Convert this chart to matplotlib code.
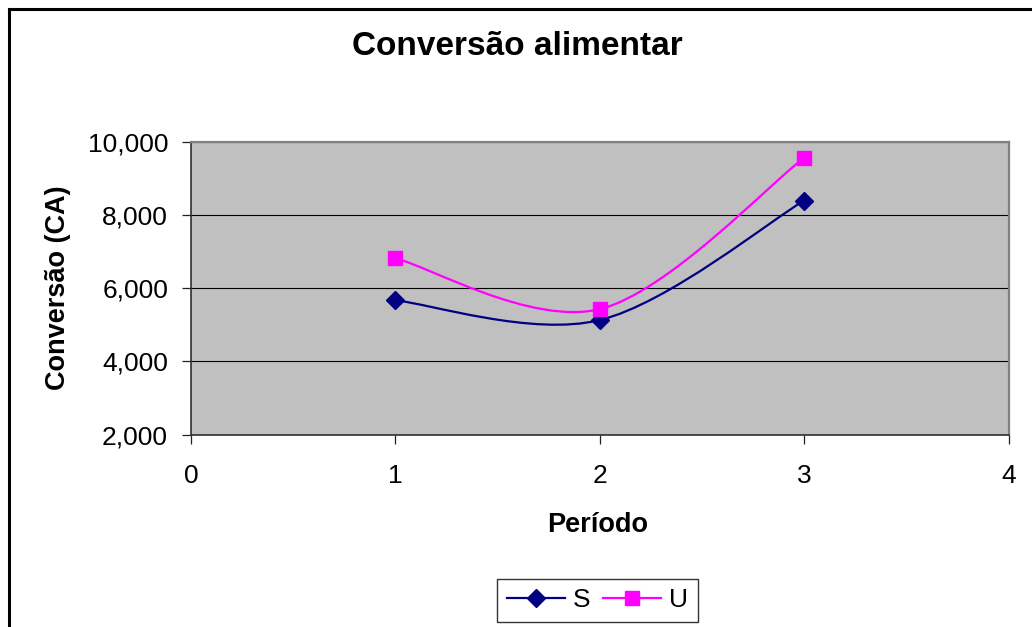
#!/usr/bin/env python3

"""Feed conversion per period for groups S and U, drawn in a classic spreadsheet style."""

import matplotlib

matplotlib.use("Agg")

import matplotlib.pyplot as plt
import numpy as np
from matplotlib.lines import Line2D
from matplotlib.patches import PathPatch
from matplotlib.path import Path

plt.rcParams["font.family"] = ["Liberation Sans", "DejaVu Sans"]

periods = [1, 2, 3]
conv_s = [5.67, 5.13, 8.40]
conv_u = [6.82, 5.43, 9.57]

x_ticks = [0, 1, 2, 3, 4]
y_ticks = [2, 4, 6, 8, 10]

NAVY = "#000080"
MAGENTA = "#FF00FF"


def smooth_path(xs, ys) -> Path:
    """Bezier path through the points, using the spreadsheet-style smoothing."""
    pts = np.column_stack([xs, ys]).astype(float)
    padded = np.vstack([pts[0], pts, pts[-1]])
    verts = [pts[0]]
    codes = [Path.MOVETO]
    for i in range(len(pts) - 1):
        p_prev, p0, p1, p_next = padded[i], padded[i + 1], padded[i + 2], padded[i + 3]
        c1 = p0 + (p1 - p_prev) / 6.0
        c2 = p1 - (p_next - p0) / 6.0
        verts += [c1, c2, p1]
        codes += [Path.CURVE4] * 3
    return Path(np.array(verts), codes)


def fmt_tick(v: float) -> str:
    return f"{v:.3f}".replace(".", ",")


fig = plt.figure(figsize=(10.32, 6.27), dpi=100)
ax = fig.add_axes([0.1851, 0.3070, 0.7923, 0.4665])
ax.set_facecolor("#C0C0C0")

for xs, ys, color, marker, ms, label in [
    (periods, conv_s, NAVY, "D", 9, "S"),
    (periods, conv_u, MAGENTA, "s", 10, "U"),
]:
    ax.add_patch(PathPatch(smooth_path(xs, ys), facecolor="none", edgecolor=color, lw=1.6, zorder=3))
    ax.plot(xs, ys, linestyle="none", marker=marker, markersize=ms, color=color, zorder=4)

ax.set_xlim(0, 4)
ax.set_ylim(2, 10)
ax.set_xticks(x_ticks)
ax.set_yticks(y_ticks)
ax.set_yticklabels([fmt_tick(v) for v in y_ticks])
ax.tick_params(axis="both", direction="out", length=6.5, width=0.9, color="#202020", labelsize=19)
ax.tick_params(axis="x", pad=15)
ax.tick_params(axis="y", pad=10)
ax.grid(axis="y", color="black", lw=0.8)
ax.set_axisbelow(True)

for side in ("top", "right"):
    ax.spines[side].set_color("#808080")
    ax.spines[side].set_linewidth(1.6)
for side in ("left", "bottom"):
    ax.spines[side].set_color("#303030")
    ax.spines[side].set_linewidth(1.2)

fig.text(0.501, 0.9266, "Conversão alimentar", fontsize=24, fontweight="bold", ha="center", va="center")
fig.text(0.5795, 0.1627, "Período", fontsize=19.5, fontweight="bold", ha="center", va="center")
fig.text(0.0562, 0.5405, "Conversão (CA)", fontsize=19.5, fontweight="bold", rotation=90,
         ha="center", va="center")

handles = [
    Line2D([], [], color=NAVY, lw=1.6, marker="D", markersize=9),
    Line2D([], [], color=MAGENTA, lw=1.6, marker="s", markersize=10),
]
leg = fig.legend(handles, ["S", "U"], loc="center", bbox_to_anchor=(0.579, 0.0423), ncol=2,
                 fontsize=19, frameon=True, fancybox=False, handlelength=2.2, handletextpad=0.3,
                 columnspacing=0.5, borderpad=0.35, borderaxespad=0)
leg.get_frame().set_edgecolor("black")
leg.get_frame().set_linewidth(1.0)

# chart frame: only the left and top edges sit inside the canvas
fig.add_artist(Line2D([9 / 1032, 9 / 1032], [0, 1 - 9 / 627], color="black", lw=2.2,
                      transform=fig.transFigure))
fig.add_artist(Line2D([9 / 1032, 1], [1 - 9 / 627, 1 - 9 / 627], color="black", lw=2.2,
                      transform=fig.transFigure))

fig.savefig("out.png", dpi=100)
